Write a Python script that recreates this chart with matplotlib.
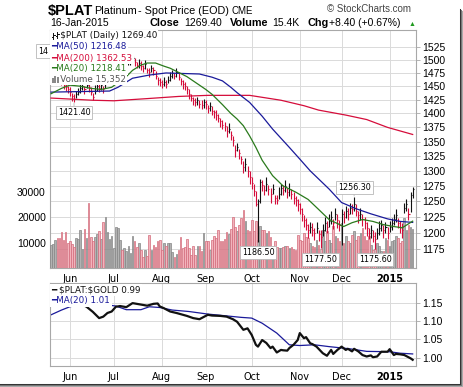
import numpy as np
import pandas as pd
import matplotlib
matplotlib.use("Agg")
import matplotlib.pyplot as plt
from matplotlib.collections import LineCollection
from matplotlib.patches import Rectangle
from matplotlib.lines import Line2D
from matplotlib.ticker import FixedLocator, NullLocator, FixedFormatter

# ---------------- data ----------------
days = pd.bdate_range("2014-05-20", "2015-01-16")

close = [
    1462, 1466, 1470, 1468, 1465, 1460, 1452, 1448, 1445,                      # May
    1440, 1432, 1426, 1435, 1440, 1446, 1450, 1444, 1452, 1448, 1440, 1430,    # Jun
    1442, 1450, 1446, 1452, 1444, 1455, 1460, 1466, 1472,
    1478, 1482, 1486, 1490, 1484, 1488, 1492, 1496, 1500, 1503, 1496, 1490,    # Jul
    1494, 1488, 1485, 1492, 1480, 1476, 1484, 1480, 1470, 1462, 1458,
    1455, 1458, 1455, 1462, 1470, 1474, 1470, 1476, 1468, 1460, 1455, 1450,    # Aug
    1444, 1435, 1428, 1425, 1420, 1424, 1418, 1415, 1420,
    1417, 1410, 1413, 1405, 1402, 1398, 1392, 1386, 1380, 1377, 1369, 1373,    # Sep
    1362, 1352, 1336, 1341, 1330, 1320, 1307, 1312, 1300, 1290,
    1280, 1266, 1245, 1250, 1282, 1276, 1268, 1278, 1270, 1262, 1270, 1255,    # Oct
    1252, 1262, 1272, 1268, 1275, 1265, 1270, 1262, 1256, 1252, 1246,
    1238, 1230, 1220, 1212, 1205, 1210, 1205, 1200, 1208, 1198, 1194, 1205,    # Nov
    1215, 1210, 1218, 1225, 1215, 1230, 1220, 1212,
    1230, 1225, 1235, 1230, 1240, 1238, 1245, 1235, 1228, 1230, 1222, 1215,    # Dec
    1208, 1200, 1205, 1195, 1190, 1200, 1208, 1212, 1205, 1210, 1200,
    1210, 1215, 1222, 1228, 1215, 1210, 1205, 1240, 1245, 1230, 1261, 1269.40, # Jan
]
bar_up = [
    6, 8, 5, 7, 6, 8, 5, 7, 6,
    8, 6, 9, 7, 6, 8, 5, 7, 6, 8, 9, 7, 10, 6, 8, 5, 7, 6, 8, 7, 6,
    7, 5, 8, 6, 9, 7, 6, 8, 5, 5, 7, 6, 8, 9, 6, 7, 5, 8, 6, 7, 9, 6, 8,
    6, 9, 7, 8, 6, 7, 5, 8, 9, 6, 7, 8, 6, 9, 7, 5, 8, 6, 7, 9, 6,
    8, 6, 7, 9, 5, 8, 7, 6, 9, 7, 8, 10, 6, 8, 9, 7, 8, 6, 9, 10, 8, 9,
    10, 12, 22, 4, 5, 9, 8, 12, 7, 10, 8, 6, 9, 11, 7, 8, 9, 6, 10, 8, 9, 7, 8,
    9, 10, 8, 12, 9, 7, 10, 8, 9, 6, 11, 9, 10, 8, 12, 9, 7, 10, 9, 8,
    7, 9, 8, 10, 7, 8, 11.3, 10, 7, 9, 8, 10, 9, 8, 7, 9, 11, 8, 10, 9, 8, 7, 9,
    8, 9, 7, 10, 8, 9, 10, 7, 8, 9, 4, 3.6,
]
bar_dn = [
    7, 5, 8, 6, 9, 7, 8, 6, 7,
    8, 9, 4.6, 7, 6, 8, 7, 9, 6, 8, 7, 6, 7, 8, 6, 9, 7, 8, 6, 7, 8,
    6, 8, 7, 9, 6, 8, 7, 6, 9, 7, 8, 6, 9, 7, 8, 10, 6, 9, 7, 8, 6, 9, 7,
    8, 7, 9, 6, 10, 8, 7, 9, 6, 8, 10, 7, 9, 8, 6, 10, 7, 8, 9, 7, 10,
    9, 10, 8, 7, 11, 9, 8, 10, 7, 9, 11, 8, 10, 9, 12, 8, 10, 9, 11, 12, 10, 12,
    10, 8, 3, 63.5, 34, 10, 8, 12, 9, 14, 8, 10, 7, 9, 11, 8, 10, 9, 12, 8, 11, 10, 12,
    9, 11, 10, 8, 12, 10, 9, 11, 8, 10, 16.5, 9, 12, 10, 8, 11, 9, 10, 12, 9,
    49, 10, 12, 9, 11, 8, 10, 9, 12, 10, 11, 9, 13, 10, 12, 9, 14.4, 10, 11, 9, 12, 10, 9,
    8, 10, 9, 11, 8, 10, 12, 9, 10, 9, 28, 14,
]
volume = [
    9200, 9600, 11200, 11800, 11800, 14200, 11200, 14200, 9900, 10800,
    9500, 8300, 11800, 11400, 15100, 7500, 15400, 11800, 25700, 12200,
    10500, 12200, 13500, 14700, 11400, 18300, 20100, 14200, 11400, 12800,
    7900, 16200, 15800, 11200, 7000, 7900, 6600, 8800, 5900, 12500,
    10500, 8300, 9900, 7200, 4300, 7200, 4600, 13200, 7000, 8900,
    8300, 10500, 10900, 7200, 9900, 8600, 9900, 9900, 6300, 4300,
    5500, 7000, 12200, 7900, 8300, 11400, 7900, 5300, 8800, 5300,
    8800, 8600, 6600, 13800, 10800, 10500, 7200, 11200, 12800, 11800,
    14900, 10500, 10500, 11400, 14100, 13500, 15400, 20000, 16000, 14500,
    17100, 19700, 23000, 18400, 15100, 14500, 19100, 14500, 18400, 11200,
    16400, 15100, 15100, 13800, 14500, 12200, 8600, 10500, 8300, 7900,
    7900, 8300, 8600, 8800, 7900, 8200, 7500, 7200, 13200, 11200,
    10500, 13800, 12200, 11800, 9900, 8800, 8300, 11200, 9200, 7500,
    15100, 10500, 14500, 11200, 9900, 16400, 12500, 11800, 10500, 17800,
    9900, 12500, 10500, 9900, 13200, 14500, 11200, 12500, 13800, 15800,
    12500, 11200, 12500, 9200, 7200, 7500, 9900, 8800, 6600, 6600,
    11800, 11200, 8600, 10500, 11200, 12800, 11800, 9800, 10800, 19700,
    15100, 17100, 16200, 15352,
]

ma50_dates = ["2014-05-20", "2014-06-27", "2014-07-03", "2014-07-14", "2014-07-24",
              "2014-08-05", "2014-08-27", "2014-09-04", "2014-09-11", "2014-09-17",
              "2014-09-22", "2014-09-30", "2014-10-08", "2014-10-15", "2014-10-27",
              "2014-11-03", "2014-11-10", "2014-11-21", "2014-12-01", "2014-12-10",
              "2014-12-19", "2014-12-31", "2015-01-08", "2015-01-16"]
ma50_vals = [1439, 1441, 1448, 1465, 1471, 1475, 1473, 1467, 1460, 1448,
             1438, 1420, 1395, 1372, 1340, 1320, 1300, 1270, 1248, 1238,
             1230, 1222, 1218, 1216.48]

ma20_dates = ["2014-05-20", "2014-05-27", "2014-06-02", "2014-06-09", "2014-06-16",
              "2014-06-23", "2014-06-30", "2014-07-09", "2014-07-14", "2014-07-18",
              "2014-07-23", "2014-07-29", "2014-08-04", "2014-08-07", "2014-08-13",
              "2014-08-19", "2014-08-22", "2014-08-27", "2014-09-01", "2014-09-04",
              "2014-09-11", "2014-09-17", "2014-09-22", "2014-09-25", "2014-09-30",
              "2014-10-03", "2014-10-08", "2014-10-15", "2014-10-22", "2014-10-30",
              "2014-11-07", "2014-11-14", "2014-11-21", "2014-12-02", "2014-12-08",
              "2014-12-15", "2014-12-22", "2014-12-29", "2015-01-05", "2015-01-09",
              "2015-01-16"]
ma20_vals = [1436, 1446, 1452, 1450, 1446, 1444, 1448, 1468, 1480, 1490,
             1494, 1494, 1488, 1484, 1476, 1468, 1460, 1452, 1444, 1435,
             1416, 1400, 1390, 1378, 1360, 1340, 1318, 1292, 1275, 1265,
             1253, 1237, 1221, 1210, 1216, 1221, 1218, 1213, 1210, 1208,
             1218.41]

ma200_dates = ["2014-05-20", "2014-06-17", "2014-07-01", "2014-07-23", "2014-08-13",
               "2014-09-02", "2014-09-30", "2014-10-21", "2014-11-05", "2014-11-14",
               "2014-12-03", "2014-12-17", "2014-12-31", "2015-01-16"]
ma200_vals = [1428, 1424, 1423, 1427, 1431, 1433, 1433, 1424, 1414, 1406,
              1397, 1389, 1375, 1362.53]

ratio_dates = ["2014-05-20", "2014-05-23", "2014-05-28", "2014-06-02", "2014-06-05",
               "2014-06-09", "2014-06-12", "2014-06-17", "2014-06-20", "2014-06-24",
               "2014-06-26", "2014-06-30", "2014-07-02", "2014-07-04", "2014-07-09",
               "2014-07-14", "2014-07-18", "2014-07-23", "2014-07-28", "2014-07-30",
               "2014-07-31", "2014-08-04", "2014-08-07", "2014-08-12", "2014-08-19",
               "2014-08-22", "2014-08-27", "2014-09-02", "2014-09-04", "2014-09-10",
               "2014-09-15", "2014-09-18", "2014-09-22", "2014-09-25", "2014-09-29",
               "2014-10-01", "2014-10-03", "2014-10-06", "2014-10-08", "2014-10-10",
               "2014-10-14", "2014-10-15", "2014-10-17", "2014-10-21", "2014-10-22",
               "2014-10-24", "2014-10-27", "2014-10-29", "2014-10-31", "2014-11-03",
               "2014-11-05", "2014-11-06", "2014-11-10", "2014-11-11", "2014-11-13",
               "2014-11-18", "2014-11-20", "2014-11-24", "2014-11-25", "2014-11-27",
               "2014-12-01", "2014-12-03", "2014-12-04", "2014-12-08", "2014-12-09",
               "2014-12-11", "2014-12-15", "2014-12-17", "2014-12-19", "2014-12-22",
               "2014-12-24", "2014-12-26", "2014-12-31", "2015-01-01", "2015-01-05",
               "2015-01-06", "2015-01-08", "2015-01-12", "2015-01-15", "2015-01-16"]
ratio_vals = [1.150, 1.148, 1.152, 1.150, 1.155, 1.148, 1.139, 1.125, 1.108, 1.112,
              1.122, 1.126, 1.139, 1.141, 1.138, 1.149, 1.145, 1.142, 1.147, 1.148,
              1.140, 1.135, 1.126, 1.122, 1.114, 1.108, 1.105, 1.117, 1.115, 1.114,
              1.112, 1.105, 1.098, 1.076, 1.080, 1.062, 1.035, 1.030, 1.048, 1.040,
              1.026, 1.030, 1.014, 1.021, 1.020, 1.019, 1.026, 1.035, 1.048, 1.067,
              1.053, 1.056, 1.039, 1.037, 1.030, 1.012, 1.005, 1.021, 1.010, 1.021,
              1.030, 1.021, 1.024, 1.017, 1.024, 1.017, 1.007, 1.003, 1.006, 1.001,
              1.003, 1.016, 1.016, 1.023, 1.007, 1.010, 1.009, 1.007, 0.998, 0.994]

ratio_ma_dates = ["2014-05-20", "2014-05-27", "2014-06-02", "2014-06-09", "2014-06-16",
                  "2014-06-23", "2014-07-02", "2014-07-09", "2014-07-18", "2014-07-24",
                  "2014-07-31", "2014-08-08", "2014-08-20", "2014-09-02", "2014-09-15",
                  "2014-09-24", "2014-10-01", "2014-10-08", "2014-10-17", "2014-10-27",
                  "2014-11-03", "2014-11-12", "2014-11-21", "2014-12-05", "2014-12-17",
                  "2015-01-01", "2015-01-08", "2015-01-16"]
ratio_ma_vals = [1.117, 1.130, 1.139, 1.145, 1.148, 1.146, 1.141, 1.131, 1.131, 1.139,
                 1.137, 1.130, 1.126, 1.119, 1.114, 1.110, 1.108, 1.094, 1.067, 1.035,
                 1.033, 1.035, 1.030, 1.024, 1.017, 1.016, 1.012, 1.010]

price_ticks = [1175, 1200, 1225, 1250, 1275, 1300, 1325, 1350, 1375, 1400,
               1425, 1450, 1475, 1500, 1525]
volume_ticks = [10000, 20000, 30000]
ratio_ticks = [1.00, 1.05, 1.10, 1.15]
month_labels = ["Jun", "Jul", "Aug", "Sep", "Oct", "Nov", "Dec", "2015"]

# ---------------- figure ----------------
W, H = 464, 387
plt.rcParams["font.family"] = ["Liberation Sans", "DejaVu Sans"]
fig = plt.figure(figsize=(W / 100, H / 100), dpi=100)
fig.patch.set_facecolor("white")


def fx(x):
    return x / W


def fy(y):
    return 1 - y / H


def rect(l, t, r, b):
    return [fx(l), fy(b), (r - l) / W, (b - t) / H]


def pos(ds):
    return days.get_indexer(pd.to_datetime(ds))


RED = "#d50d3b"
NAVY = "#1a1a9a"
GREEN = "#2a7a1c"
GRID = "#dadada"
SPINE = "#a8a8a8"
LEG = ["DejaVu Sans"]

close = np.array(close, dtype=float)
hi = close + np.array(bar_up)
lo = close - np.array(bar_dn)
x = np.arange(len(close))
up_day = np.r_[True, close[1:] >= close[:-1]]

per = days.to_period("M")
month_idx = np.flatnonzero(np.r_[True, per[1:] != per[:-1]])[1:]
XLIM = (-0.5, 174.6)

# grid / frame of the price panel
axg = fig.add_axes(rect(50, 30, 416, 268), zorder=1)
axg.set_yscale("log")
axg.set_ylim(1147, 1559)
axg.set_xlim(*XLIM)
axg.yaxis.set_major_locator(FixedLocator(price_ticks))
axg.yaxis.set_major_formatter(FixedFormatter([str(t) for t in price_ticks]))
axg.yaxis.set_minor_locator(NullLocator())
axg.yaxis.tick_right()
axg.set_xticks(month_idx)
axg.set_xticklabels(month_labels, family=LEG, fontsize=7)
axg.get_xticklabels()[-1].set_fontweight("bold")
axg.tick_params(axis="x", length=0, pad=4)
axg.tick_params(axis="y", length=3, width=0.6, color=SPINE, pad=1.5, labelsize=7.5)
axg.grid(True, color=GRID, lw=0.7)
for s in axg.spines.values():
    s.set_color(SPINE)
    s.set_linewidth(0.8)

# volume
axv = fig.add_axes(rect(50, 30, 416, 268), zorder=2)
axv.patch.set_visible(False)
axv.set_xlim(*XLIM)
axv.set_ylim(0, 94000)
axv.bar(x[up_day], np.array(volume)[up_day], width=0.78, color="#b2b2b2",
        edgecolor="#858585", linewidth=0.5)
axv.bar(x[~up_day], np.array(volume)[~up_day], width=0.78, color="#f2b3bc",
        edgecolor="#d36b7b", linewidth=0.5)
axv.set_yticks(volume_ticks)
axv.set_yticklabels([str(v) for v in volume_ticks])
axv.tick_params(axis="y", length=0, pad=3, labelsize=7.5)
axv.tick_params(axis="x", bottom=False, labelbottom=False)
for s in axv.spines.values():
    s.set_visible(False)

# price bars and moving averages
axp = fig.add_axes(rect(50, 30, 416, 268), zorder=3)
axp.set_yscale("log")
axp.set_ylim(1147, 1559)
axp.set_xlim(*XLIM)
axp.axis("off")
cols = np.where(up_day, "#111111", RED)
segs = [[(i, lo[i]), (i, hi[i])] for i in x] + [[(i, close[i]), (i + 0.5, close[i])] for i in x]
axp.add_collection(LineCollection(segs, colors=list(cols) * 2, linewidths=0.8))
axp.plot(pos(ma200_dates), ma200_vals, color=RED, lw=0.9)
axp.plot(pos(ma50_dates), ma50_vals, color=NAVY, lw=0.9)
axp.plot(pos(ma20_dates), ma20_vals, color=GREEN, lw=0.9)

box = dict(boxstyle="square,pad=0.25", fc="white", ec="#b8b8b8", lw=0.6)
arrow = dict(arrowstyle="-", color="#b8b8b8", lw=0.6, shrinkA=0, shrinkB=1)
for i, yv, dy in [(11, lo[11], -11), (99, lo[99], -11), (129, lo[129], -12),
                  (155, lo[155], -11), (145, hi[145], 10)]:
    axp.annotate(f"{yv:.2f}", xy=(i, yv), xytext=(0, dy), textcoords="offset pixels",
                 ha="center", va="center", fontsize=5.8, family=LEG, bbox=box,
                 arrowprops=arrow, annotation_clip=False)

# ratio panel
axr = fig.add_axes(rect(50, 283, 416, 366), zorder=1)
axr.set_xlim(*XLIM)
axr.set_ylim(0.977, 1.204)
axr.plot(pos(ratio_ma_dates), ratio_ma_vals, color=NAVY, lw=0.9)
axr.plot(pos(ratio_dates), ratio_vals, color="#111111", lw=1.6)
axr.yaxis.tick_right()
axr.set_yticks(ratio_ticks)
axr.set_yticklabels([f"{t:.2f}" for t in ratio_ticks])
axr.set_xticks(month_idx)
axr.set_xticklabels(month_labels, family=LEG, fontsize=7)
axr.get_xticklabels()[-1].set_fontweight("bold")
axr.tick_params(axis="x", length=0, pad=4)
axr.tick_params(axis="y", length=3, width=0.6, color=SPINE, pad=1.5, labelsize=7.5)
axr.grid(True, color=GRID, lw=0.7)
for s in axr.spines.values():
    s.set_color(SPINE)
    s.set_linewidth(0.8)

# ---------------- header ----------------
fig.text(fx(48), fy(15), r"\$PLAT", fontsize=10.5, fontweight="bold", va="baseline")
fig.text(fx(94), fy(14.5), "Platinum", fontsize=7.8, va="baseline")
fig.text(fx(138), fy(14.5), "- Spot Price (EOD)", fontsize=7.8, va="baseline")
fig.text(fx(232), fy(14.5), "CME", fontsize=7, va="baseline")
fig.text(fx(327), fy(12), "\u00a9 StockCharts.com", fontsize=7, color="#444444", va="baseline")
fig.text(fx(50), fy(26.5), "16-Jan-2015", fontsize=7.5, va="baseline")
fig.text(fx(149), fy(26.5), "Close", fontsize=7.8, fontweight="bold", va="baseline")
fig.text(fx(184), fy(26.5), "1269.40", fontsize=7.5, va="baseline")
fig.text(fx(230), fy(26.5), "Volume", fontsize=7.8, fontweight="bold", va="baseline")
fig.text(fx(272), fy(26.5), "15.4K", fontsize=7.5, va="baseline")
fig.text(fx(308), fy(26.5), "Chg", fontsize=7.8, fontweight="bold", va="baseline")
fig.text(fx(329), fy(26.5), "+8.40 (+0.67%)", fontsize=7.5, va="baseline")
fig.text(fx(409), fy(26), "\u25b2", fontsize=5, color="#1f9a1f", va="baseline")

# ---------------- legends ----------------
lbox = dict(boxstyle="square,pad=0.15", fc="white", ec="none")
# partly hidden price label left of the panel
fig.text(fx(38.5), fy(51), "14", fontsize=5.8, family=LEG, va="center", zorder=4,
         bbox=dict(boxstyle="square,pad=0.3", fc="white", ec="#b8b8b8", lw=0.6))
rows = [("   \\$PLAT (Daily) 1269.40", "#111111", 36),
        ("\u2501MA(50) 1216.48", NAVY, 47),
        ("\u2501MA(200) 1362.53", RED, 58),
        ("\u2501MA(20) 1218.41", GREEN, 69),
        ("   Volume 15,352", "#555555", 79.5)]
for txt, c, yy in rows:
    fig.text(fx(51.5), fy(yy), txt, fontsize=6.3, family=LEG, color=c, va="center",
             zorder=6, bbox=lbox)
# small bar icon for the price row
for xi, (y0, y1, yo, yc) in zip([53.5, 57.5], [(33, 39, 37, 34.5), (32, 38, 36, 33.5)]):
    fig.add_artist(Line2D([fx(xi), fx(xi)], [fy(y0), fy(y1)], color="#111111", lw=0.7, zorder=7))
    fig.add_artist(Line2D([fx(xi - 1.5), fx(xi)], [fy(yo), fy(yo)], color="#111111", lw=0.7, zorder=7))
    fig.add_artist(Line2D([fx(xi), fx(xi + 1.5)], [fy(yc), fy(yc)], color="#111111", lw=0.7, zorder=7))
# small volume icon
for xl, top in zip([52, 54.5, 57], [78, 76, 77]):
    fig.add_artist(Rectangle((fx(xl), fy(83)), 2 / W, (83 - top) / H, transform=fig.transFigure,
                             fc="#8a8a8a", ec="none", zorder=7))

fig.text(fx(51.5), fy(290), "\u2501 \\$PLAT:\\$GOLD 0.99", fontsize=6.3, family=LEG,
         color="#111111", va="center", zorder=6, bbox=lbox)
fig.text(fx(51.5), fy(301), "\u2501MA(20) 1.01", fontsize=6.3, family=LEG, color=NAVY,
         va="center", zorder=6, bbox=lbox)

# ---------------- outer frame with shadow ----------------
for k, c in enumerate(["#333333", "#777777", "#aaaaaa", "#d8d8d8"]):
    fig.add_artist(Line2D([fx(460.5 + k), fx(460.5 + k)], [fy(9 + k), fy(383.5 + k)], color=c, lw=0.75))
    fig.add_artist(Line2D([fx(0), fx(460.5 + k)], [fy(383.5 + k), fy(383.5 + k)], color=c, lw=0.75))

fig.savefig("out.png", dpi=100, facecolor="white")
